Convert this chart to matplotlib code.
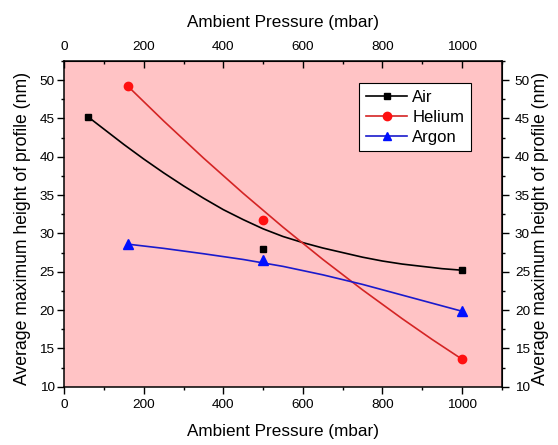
import matplotlib
matplotlib.use('Agg')
import matplotlib.pyplot as plt
from matplotlib.lines import Line2D
from matplotlib.ticker import MultipleLocator

plt.rcParams['font.family'] = ['Liberation Sans', 'DejaVu Sans']

# measured points
air_x = [60, 500, 1000]
air_y = [45.2, 28.0, 25.2]
he_x = [160, 500, 1000]
he_y = [49.2, 31.7, 13.6]
ar_x = [160, 500, 1000]
ar_y = [28.6, 26.5, 19.9]

# fitted curves
air_fit_x = [60, 100, 150, 200, 250, 300, 350, 400, 450, 500, 550, 600, 650, 700, 750, 800, 850, 900, 950, 1000]
air_fit_y = [45.2, 43.6, 41.6, 39.7, 37.9, 36.2, 34.6, 33.1, 31.8, 30.6, 29.6, 28.8, 28.1, 27.5, 26.9, 26.4, 26.0, 25.7, 25.4, 25.2]
he_fit_x = [160, 250, 350, 450, 550, 650, 750, 850, 925, 1000]
he_fit_y = [49.2, 44.67, 39.84, 35.23, 30.82, 26.62, 22.64, 18.87, 16.17, 13.6]
ar_fit_x = [160, 250, 350, 450, 550, 650, 750, 850, 1000]
ar_fit_y = [28.6, 28.05, 27.35, 26.6, 25.7, 24.6, 23.35, 21.95, 19.85]

x_major = [0, 200, 400, 600, 800, 1000]
x_minor = [100, 300, 500, 700, 900, 1100]
y_major = [10, 15, 20, 25, 30, 35, 40, 45, 50]
y_minor = [12.5, 17.5, 22.5, 27.5, 32.5, 37.5, 42.5, 47.5, 52.5]

xlabel = 'Ambient Pressure (mbar)'
ylabel = 'Average maximum height of profile (nm)'
tick_fs = 9.7
xlab_fs = 12.3
ylab_fs = 12.7

fig = plt.figure(figsize=(5.58, 4.45), dpi=100)
ax = fig.add_axes([0.1152, 0.131, 0.899 - 0.1152, 0.863 - 0.131])
ax.set_facecolor('#ffc3c5')

ax.plot(air_fit_x, air_fit_y, color='black', lw=1.2)
ax.plot(he_fit_x, he_fit_y, color='#d42424', lw=1.2)
ax.plot(ar_fit_x, ar_fit_y, color='#1a1acc', lw=1.2)
ax.plot(air_x, air_y, 's', color='black', ms=4.8, ls='none')
ax.plot(he_x, he_y, 'o', color='#ff1010', ms=6, ls='none')
ax.plot(ar_x, ar_y, '^', color='#0010ff', ms=6.5, ls='none')

ax.set_xlim(0, 1100)
ax.set_ylim(10, 52.5)
ax.set_xticks(x_major)
ax.set_xticks(x_minor, minor=True)
ax.set_yticks(y_major)
ax.set_yticks(y_minor, minor=True)
ax.tick_params(which='both', direction='out', labelsize=tick_fs, width=1)
ax.tick_params(which='major', length=5)
ax.tick_params(which='minor', length=2.5)
ax.tick_params(axis='x', pad=4)
ax.tick_params(axis='y', pad=2)
ax.set_xlabel(xlabel, fontsize=xlab_fs, labelpad=9)
ax.set_ylabel(ylabel, fontsize=ylab_fs)
ax.yaxis.set_label_coords(-0.0762, 0.485, transform=ax.transAxes)
for s in ax.spines.values():
    s.set_linewidth(1.1)

# mirrored top and right axes
axt = ax.secondary_xaxis('top')
axt.set_xticks(x_major)
axt.set_xticks(x_minor, minor=True)
axt.tick_params(which='both', direction='in', labelsize=tick_fs, width=1, pad=6)
axt.tick_params(which='major', length=5)
axt.tick_params(which='minor', length=2.5)
axt.set_xlabel(xlabel, fontsize=xlab_fs, labelpad=10)

axr = ax.secondary_yaxis('right')
axr.set_yticks(y_major)
axr.set_yticks(y_minor, minor=True)
axr.tick_params(which='both', direction='out', labelsize=tick_fs, width=1, pad=4.5)
axr.tick_params(which='major', length=5)
axr.tick_params(which='minor', length=2.5)
axr.set_ylabel(ylabel, fontsize=ylab_fs)
axr.yaxis.set_label_coords(1.0705, 0.485, transform=ax.transAxes)

handles = [
    Line2D([], [], color='black', marker='s', ms=4.8, lw=1.2),
    Line2D([], [], color='#d42424', marker='o', mfc='#ff1010', mec='#ff1010', ms=6, lw=1.2),
    Line2D([], [], color='#1a1acc', marker='^', mfc='#0010ff', mec='#0010ff', ms=6, lw=1.2),
]
leg = ax.legend(handles, ['Air', 'Helium', 'Argon'], loc='upper right',
                bbox_to_anchor=(0.93, 0.9325), borderaxespad=0, fontsize=12,
                fancybox=False, framealpha=1, edgecolor='black',
                handlelength=2.5, borderpad=0.4, labelspacing=0.3,
                handletextpad=0.3)
leg.get_frame().set_linewidth(0.8)

fig.savefig('out.png', dpi=100)
